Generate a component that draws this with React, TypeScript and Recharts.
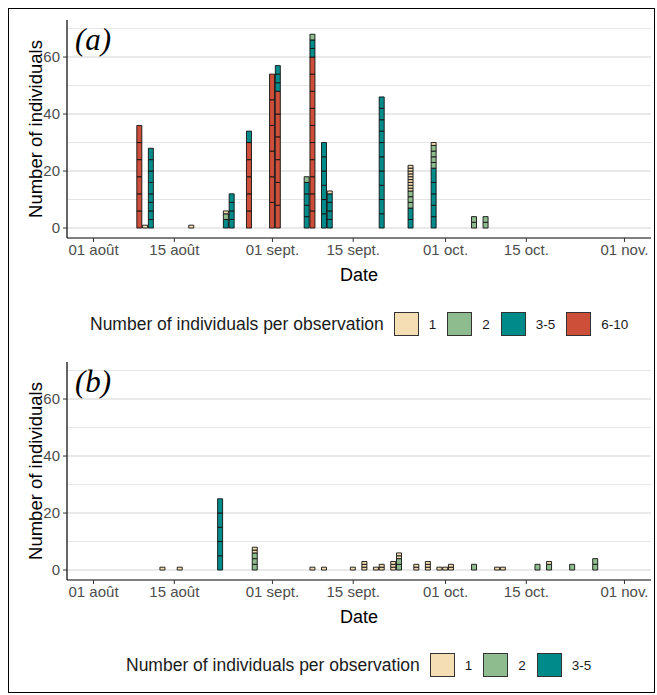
import React from "react";
import { BarChart, Bar, XAxis, YAxis, CartesianGrid, Cell } from "recharts";

// Category of an observation (number of individuals seen in it)
const categoryLabels = ["1", "2", "3-5", "6-10"];
const categoryColors = ["#F5DEB3", "#8FBC8F", "#008B8B", "#CD4F39"];

// x-axis ticks (days since 01 August)
const xTickDays = [0, 14, 31, 45, 61, 75, 92];
const xTickLabels = ["01 août", "15 août", "01 sept.", "15 sept.", "01 oct.", "15 oct.", "01 nov."];
const yTicks = [0, 20, 40, 60];
const gridMajor = [0, 20, 40, 60];
const gridMinor = [10, 30, 50, 70];

// Panel (a): dates and the observations (individuals per observation), bottom to top
const datesA = ["08-09", "08-10", "08-11", "08-18", "08-24", "08-25", "08-28", "09-01", "09-02", "09-07", "09-08", "09-10", "09-11", "09-20", "09-25", "09-29", "10-06", "10-08"];
const obsA: number[][] = [
  [6, 6, 6, 6, 6, 6],
  [1],
  [3, 3, 3, 3, 4, 4, 4, 4],
  [1],
  [3, 2, 1],
  [3, 3, 3, 3],
  [6, 6, 6, 6, 6, 4],
  [9, 9, 9, 9, 9, 9],
  [8, 8, 8, 8, 8, 8, 3, 3, 3],
  [4, 4, 4, 4, 2],
  [6, 6, 6, 6, 6, 6, 6, 6, 6, 6, 3, 3, 2],
  [5, 5, 5, 5, 5, 5],
  [3, 3, 3, 3, 1],
  [5, 5, 5, 5, 5, 5, 4, 4, 4, 4],
  [3, 4, 2, 2, 2, 1, 1, 1, 1, 1, 1, 1, 1, 1],
  [4, 4, 4, 4, 5, 2, 2, 2, 2, 1],
  [2, 2],
  [2, 2],
];

// Panel (b)
const datesB = ["08-13", "08-16", "08-23", "08-29", "09-08", "09-10", "09-15", "09-17", "09-19", "09-20", "09-22", "09-23", "09-26", "09-28", "09-30", "10-01", "10-02", "10-06", "10-10", "10-11", "10-17", "10-19", "10-23", "10-27"];
const obsB: number[][] = [
  [1],
  [1],
  [5, 5, 5, 5, 5],
  [2, 2, 2, 1, 1],
  [1],
  [1],
  [1],
  [1, 1, 1],
  [1],
  [1, 1],
  [1, 1, 1],
  [2, 2, 1, 1],
  [1, 1],
  [1, 1, 1],
  [1],
  [1],
  [1, 1],
  [2],
  [1],
  [1],
  [2],
  [2, 1],
  [2],
  [2, 2],
];

const FONT = "'Liberation Sans', Arial, sans-serif";

function dayOfSeason(md: string): number {
  const [m, d] = md.split("-").map(Number);
  return Math.round((Date.UTC(2020, m - 1, d) - Date.UTC(2020, 7, 1)) / 86400000);
}

function categoryOf(v: number): number {
  if (v <= 1) return 0;
  if (v === 2) return 1;
  if (v <= 5) return 2;
  return 3;
}

function buildRows(dates: string[], obs: number[][]) {
  return dates.map((md, i) => {
    const row: Record<string, number> = { day: dayOfSeason(md) };
    const sorted = obs[i]
      .map((v, k) => ({ v, k }))
      .sort((a, b) => categoryOf(b.v) - categoryOf(a.v) || a.k - b.k);
    sorted.forEach((o, j) => {
      row[`s${j}`] = o.v;
    });
    return row;
  });
}

function Panel({ dates, obs, top }: { dates: string[]; obs: number[][]; top: number }) {
  const rows = buildRows(dates, obs);
  const nSeries = Math.max(...obs.map((o) => o.length));
  const series = Array.from({ length: nSeries }, (_, i) => `s${i}`);
  return (
    <div style={{ position: "absolute", left: 0, top, width: 657, height: 300 }}>
      <BarChart width={657} height={300} data={rows} margin={{ top: 20, right: 6, bottom: 32, left: 0 }}>
        <CartesianGrid vertical={false} horizontalValues={gridMinor} stroke="#e2e2e2" strokeWidth={0.9} />
        <CartesianGrid vertical={false} horizontalValues={gridMajor} stroke="#d4d4d4" strokeWidth={1.1} />
        <XAxis
          dataKey="day"
          type="number"
          domain={[-4.6, 96.6]}
          allowDataOverflow
          ticks={xTickDays}
          interval={0}
          tickFormatter={(v: number) => xTickLabels[xTickDays.indexOf(v)] ?? ""}
          height={30}
          tickSize={4}
          tickMargin={2}
          axisLine={{ stroke: "#000", strokeWidth: 1.2 }}
          tickLine={{ stroke: "#333" }}
          tick={{ fill: "#4d4d4d", fontSize: 15, fontFamily: FONT }}
        />
        <YAxis
          type="number"
          domain={[-3.5, 73]}
          allowDataOverflow
          ticks={yTicks}
          interval={0}
          width={67}
          tickSize={4}
          tickMargin={3}
          axisLine={{ stroke: "#000", strokeWidth: 1.2 }}
          tickLine={{ stroke: "#333" }}
          tick={{ fill: "#4d4d4d", fontSize: 15, fontFamily: FONT }}
        />
        {series.map((key) => (
          <Bar key={key} dataKey={key} stackId="a" barSize={5} isAnimationActive={false} stroke="#111" strokeWidth={0.9}>
            {rows.map((r, k) => (
              <Cell key={k} fill={r[key] !== undefined ? categoryColors[categoryOf(r[key])] : "none"} />
            ))}
          </Bar>
        ))}
      </BarChart>
    </div>
  );
}

function Legend({ top, left, count }: { top: number; left: number; count: number }) {
  const items = categoryLabels.slice(0, count);
  return (
    <div
      style={{
        position: "absolute",
        left,
        top,
        height: 26,
        display: "flex",
        alignItems: "center",
        fontFamily: FONT,
        color: "#1a1a1a",
        whiteSpace: "nowrap",
      }}
    >
      <span style={{ fontSize: 17.5, marginRight: 10 }}>Number of individuals per observation</span>
      {items.map((lab, i) => (
        <React.Fragment key={lab}>
          <span
            style={{
              display: "inline-block",
              width: 25,
              height: 24,
              boxSizing: "border-box",
              border: "1px solid #333",
              background: categoryColors[i],
            }}
          />
          <span style={{ fontSize: 13.5, marginLeft: 10, marginRight: 11 }}>{lab}</span>
        </React.Fragment>
      ))}
    </div>
  );
}

function Titles({ top, label }: { top: number; label: string }) {
  return (
    <>
      <div
        style={{
          position: "absolute",
          left: 36,
          top: top + 129,
          transform: "translate(-50%, -50%) rotate(-90deg)",
          fontFamily: FONT,
          fontSize: 18.5,
          whiteSpace: "nowrap",
          color: "#000",
        }}
      >
        Number of individuals
      </div>
      <div
        style={{
          position: "absolute",
          left: 359,
          top: top + 275,
          transform: "translate(-50%, -50%)",
          fontFamily: FONT,
          fontSize: 18,
          color: "#000",
        }}
      >
        Date
      </div>
      <div
        style={{
          position: "absolute",
          left: 75,
          top: top + 24,
          fontFamily: "'Liberation Serif', 'Times New Roman', serif",
          fontStyle: "italic",
          fontSize: 31,
          lineHeight: 1,
          color: "#000",
        }}
      >
        {label}
      </div>
    </>
  );
}

export default function App() {
  return (
    <div style={{ position: "fixed", left: 0, top: 0, width: 657, height: 695, background: "#fff", overflow: "hidden" }}>
      <div
        style={{
          position: "absolute",
          left: 8,
          top: 8,
          width: 647,
          height: 685,
          border: "1px solid #000",
          boxSizing: "border-box",
        }}
      />
      <Panel dates={datesA} obs={obsA} top={0} />
      <Titles top={0} label="(a)" />
      <Legend top={311} left={90} count={4} />
      <Panel dates={datesB} obs={obsB} top={342} />
      <Titles top={342} label="(b)" />
      <Legend top={652} left={126} count={3} />
    </div>
  );
}
